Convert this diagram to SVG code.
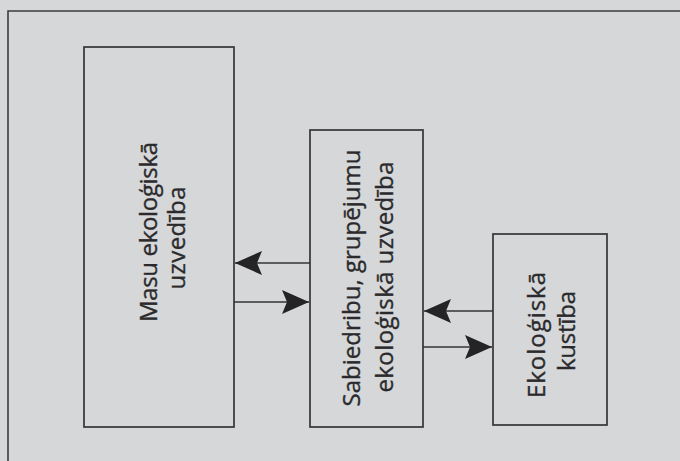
<svg xmlns="http://www.w3.org/2000/svg" width="680" height="461" viewBox="0 0 680 461">
  <style>
    .frame { fill: none; stroke: #3c3c3e; stroke-width: 1.6; }
    .box { fill: none; stroke: #353537; stroke-width: 1.7; }
    .lbl { font-family: "Open Sans", "Noto Sans", "DejaVu Sans", sans-serif; font-size: 24px; fill: #2a2a2c; stroke: #2a2a2c; stroke-width: 0.35; text-anchor: middle; }
    .conn { fill: none; stroke: #353537; stroke-width: 1.4; }
  </style>
  <defs>
    <marker id="ah" markerUnits="userSpaceOnUse" markerWidth="30" markerHeight="28" viewBox="-28 -14 30 28" refX="0" refY="0" orient="auto">
      <path d="M0,0 L-27,-12 L-22,0 L-27,12 Z" fill="#242426"/>
    </marker>
  </defs>
  <rect x="0" y="0" width="680" height="461" fill="#d6d7d9"/>
  <path class="frame" d="M8,461 L8,11 L680,11"/>

  <g id="masu">
    <rect class="box" x="84" y="47" width="150" height="380"/>
    <text class="lbl" transform="translate(157,232) rotate(-90)" textLength="180" lengthAdjust="spacing">Masu  ekoloģiskā</text>
    <text class="lbl" transform="translate(185,238) rotate(-90)" textLength="103" lengthAdjust="spacing">uzvedība</text>
  </g>

  <g id="sabiedribu">
    <rect class="box" x="310" y="130" width="113" height="297"/>
    <text class="lbl" transform="translate(360,278) rotate(-90)" textLength="257" lengthAdjust="spacing">Sabiedribu, grupējumu</text>
    <text class="lbl" transform="translate(393,277) rotate(-90)" textLength="231" lengthAdjust="spacing">ekoloģiskā  uzvedība</text>
  </g>

  <g id="kustiba">
    <rect class="box" x="493" y="234" width="114" height="191"/>
    <text class="lbl" transform="translate(545,335) rotate(-90)" textLength="126" lengthAdjust="spacing">Ekoloģiskā</text>
    <text class="lbl" transform="translate(575,331) rotate(-90)" textLength="80" lengthAdjust="spacing">kustība</text>
  </g>

  <g id="connectors">
    <line class="conn" x1="310" y1="263" x2="235" y2="263" marker-end="url(#ah)"/>
    <line class="conn" x1="234" y1="302" x2="309" y2="302" marker-end="url(#ah)"/>
    <line class="conn" x1="493" y1="311" x2="424" y2="311" marker-end="url(#ah)"/>
    <line class="conn" x1="423" y1="347" x2="492" y2="347" marker-end="url(#ah)"/>
  </g>
</svg>
